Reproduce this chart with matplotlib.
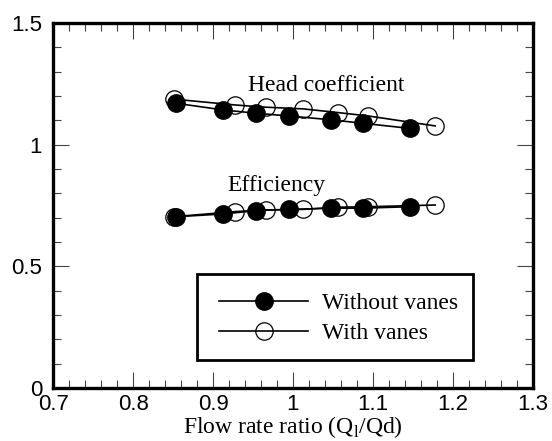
import matplotlib
matplotlib.use('Agg')
import matplotlib.pyplot as plt
from matplotlib.ticker import MultipleLocator, FuncFormatter
from matplotlib.patches import Rectangle

plt.rcParams['font.family'] = 'Liberation Sans'
plt.rcParams['mathtext.fontset'] = 'custom'
plt.rcParams['mathtext.rm'] = 'Liberation Serif'

# flow rate ratio of each measured point
q_without = [0.854, 0.912, 0.954, 0.995, 1.048, 1.087, 1.146]
q_with = [0.851, 0.928, 0.966, 1.013, 1.056, 1.094, 1.178]

# head coefficient
head_without = [1.170, 1.143, 1.129, 1.118, 1.102, 1.088, 1.067]
head_with = [1.187, 1.163, 1.154, 1.147, 1.132, 1.118, 1.077]

# efficiency
eff_without = [0.704, 0.715, 0.729, 0.734, 0.739, 0.739, 0.745]
eff_with = [0.704, 0.725, 0.732, 0.734, 0.743, 0.745, 0.752]

serif = 'Liberation Serif'

fig = plt.figure(figsize=(5.52, 4.41), dpi=100)
ax = fig.add_axes([53.3 / 552, 1 - 388 / 441, 479.4 / 552, 365 / 441])

# without vanes (filled)
l1, = ax.plot(q_without, head_without, '-o', color='k', lw=1.2,
              ms=12.5, mfc='k', mec='k', zorder=3, label='Without vanes')
ax.plot(q_without, eff_without, '-o', color='k', lw=1.2,
        ms=12.5, mfc='k', mec='k', zorder=3)
# with vanes (open)
l2, = ax.plot(q_with, head_with, '-o', color='k', lw=1.2,
              ms=12.5, mfc='none', mec='k', mew=0.9, zorder=2, label='With vanes')
ax.plot(q_with, eff_with, '-o', color='k', lw=1.2,
        ms=12.5, mfc='none', mec='k', mew=0.9, zorder=2)

ax.text(1.041, 1.221, 'Head coefficient', family=serif, fontsize=17,
        ha='center', va='baseline')
ax.text(0.979, 0.811, 'Efficiency', family=serif, fontsize=17,
        ha='center', va='baseline')

ax.set_xlim(0.7, 1.3)
ax.set_ylim(0, 1.5)
ax.xaxis.set_major_locator(MultipleLocator(0.1))
ax.xaxis.set_minor_locator(MultipleLocator(0.02))
ax.yaxis.set_major_locator(MultipleLocator(0.5))
ax.yaxis.set_minor_locator(MultipleLocator(0.1))
ax.xaxis.set_major_formatter(FuncFormatter(lambda v, p: f'{v:g}'))
ax.yaxis.set_major_formatter(FuncFormatter(lambda v, p: f'{v:g}'))

ax.tick_params(which='both', direction='in', top=True, right=True,
               width=0.8, color='#444444', labelsize=16)
ax.tick_params(which='major', length=11.5)
ax.tick_params(which='minor', length=5.8)
ax.tick_params(axis='x', pad=4)
ax.tick_params(axis='y', pad=8)

for sp in ax.spines.values():
    sp.set_linewidth(2.4)

ax.set_xlabel(r'Flow rate ratio (Q$_\mathrm{l}$/Qd)', family=serif,
              fontsize=17, labelpad=0)

# legend frame drawn as a box, entries placed inside it
box = Rectangle((0.299, 0.078), 0.576, 0.235, transform=ax.transAxes,
                fill=True, facecolor='white', edgecolor='k', lw=2.0, zorder=4)
ax.add_patch(box)
leg = ax.legend(handles=[l1, l2], loc='upper left',
                bbox_to_anchor=(0.3463, 0.261), borderaxespad=0,
                prop={'family': serif, 'size': 17}, handlelength=3.77,
                handletextpad=0.6, borderpad=0, labelspacing=0.35,
                frameon=False)
leg.set_zorder(5)

fig.savefig('out.png', dpi=100)
